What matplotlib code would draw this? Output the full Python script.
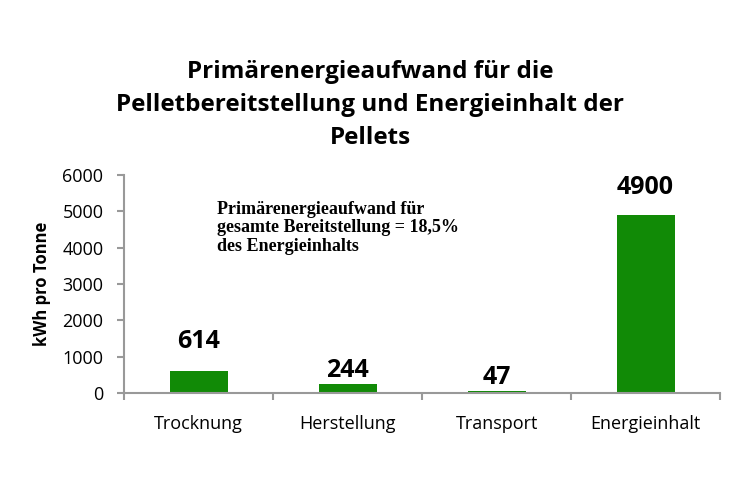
import matplotlib
matplotlib.use('Agg')
import matplotlib.pyplot as plt
import numpy as np

categories = ['Trocknung', 'Herstellung', 'Transport', 'Energieinhalt']
values = [614, 244, 47, 4900]
value_labels = ['614', '244', '47', '4900']
yticks = [0, 1000, 2000, 3000, 4000, 5000, 6000]

plt.rcParams['font.family'] = ['Open Sans', 'DejaVu Sans']

fig = plt.figure(figsize=(7.4, 4.93), dpi=100)
ax = fig.add_axes([0.168, 0.203, 0.805, 0.442])

x = np.arange(len(categories))
ax.bar(x, values, 0.39, color='#118a06', edgecolor='none')

# labels were placed by hand in the original, offsets in points
label_offsets = [12, 1, 1, 11]
for xi, v, lab, off in zip(x, values, value_labels, label_offsets):
    ax.annotate(lab, (xi, v), xytext=(0, off), textcoords='offset points',
                ha='center', va='bottom', fontsize=18, fontweight='bold')

ax.set_xlim(-0.5, len(categories) - 0.5)
ax.set_ylim(0, 6000)
ax.set_yticks(yticks)
ax.set_yticklabels([str(t) for t in yticks], fontsize=13)
ax.set_xticks(x)
ax.set_xticklabels(categories, fontsize=13)
ax.tick_params(axis='x', length=0, pad=16)
ax.set_xticks(np.arange(len(categories) + 1) - 0.5, minor=True)
ax.tick_params(axis='x', which='minor', length=5, color='#999999', width=1.5)
ax.tick_params(axis='y', length=5, color='#999999', width=1.5, pad=10)

for s in ['top', 'right']:
    ax.spines[s].set_visible(False)
for s in ['left', 'bottom']:
    ax.spines[s].set_color('#999999')
    ax.spines[s].set_linewidth(1.5)

ax.set_ylabel('kWh pro Tonne', fontsize=12, fontweight='bold', labelpad=8)

fig.text(0.5, 0.788, 'Primärenergieaufwand für die\nPelletbereitstellung und Energieinhalt der\nPellets',
         ha='center', va='center', fontsize=17.5, fontweight='bold', linespacing=1.5)

ax.text(0.155, 0.88, 'Primärenergieaufwand für\ngesamte Bereitstellung = 18,5%\ndes Energieinhalts',
        transform=ax.transAxes, ha='left', va='top', fontsize=13, fontweight='bold',
        family=['Liberation Serif', 'DejaVu Serif'], linespacing=1.1)

fig.savefig('out.png', dpi=100)
